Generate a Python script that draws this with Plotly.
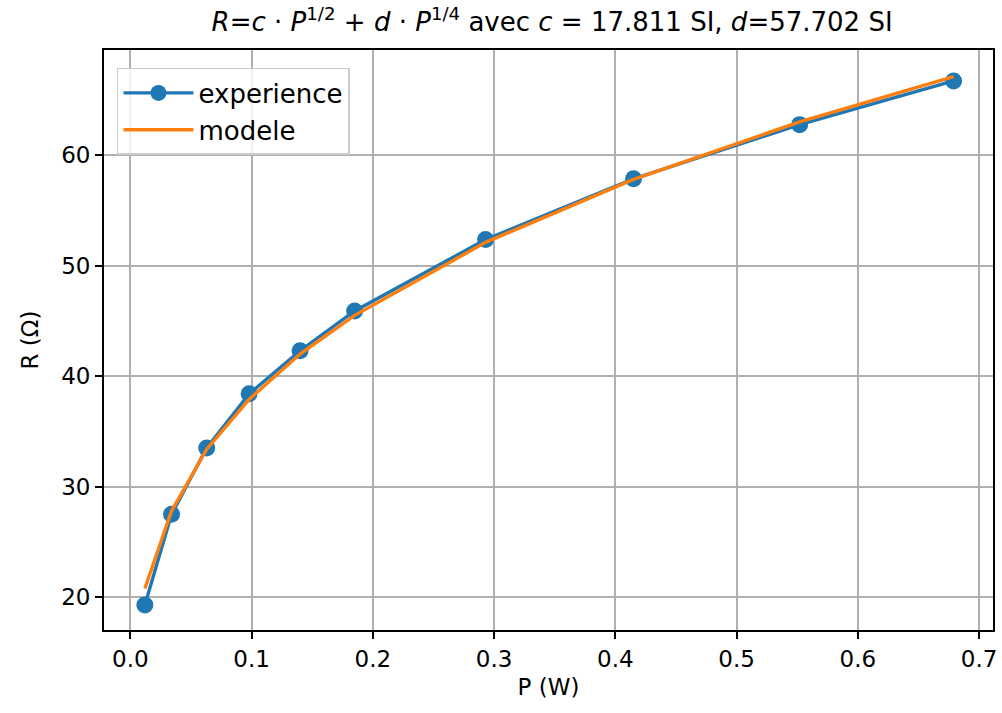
import plotly.graph_objects as go

P_exp = [0.012, 0.034, 0.063, 0.098, 0.140, 0.185, 0.293, 0.415, 0.552, 0.679]
R_exp = [19.3, 27.5, 33.5, 38.4, 42.3, 45.9, 52.35, 57.85, 62.75, 66.7]
R_mod = [20.8, 27.8, 33.4, 37.9, 42.0, 45.5, 52.1, 57.8, 63.0, 67.1]

x_ticks = [0.0, 0.1, 0.2, 0.3, 0.4, 0.5, 0.6, 0.7]
y_ticks = [20, 30, 40, 50, 60]

blue = "#1f77b4"
orange = "#ff7f0e"
font = "DejaVu Sans"

fig = go.Figure()
fig.add_trace(go.Scatter(x=P_exp, y=R_exp, mode="lines+markers", name="experience",
                         line=dict(color=blue, width=3.4),
                         marker=dict(color=blue, size=17)))
fig.add_trace(go.Scatter(x=P_exp, y=R_mod, mode="lines", name="modele",
                         line=dict(color=orange, width=3.4)))

axis_common = dict(showline=True, linecolor="black", linewidth=1.8, mirror=True,
                   ticks="outside", ticklen=7, tickwidth=1.6, tickcolor="black",
                   showgrid=True, gridcolor="#b0b0b0", gridwidth=1.8, zeroline=False,
                   tickfont=dict(family=font, size=23, color="black"))

fig.update_layout(
    width=1002, height=713,
    paper_bgcolor="white", plot_bgcolor="white",
    margin=dict(l=104, r=5, t=50, b=83),
    title=dict(text="<i>R</i>=<i>c</i> · <i>P</i><sup>1/2</sup> + <i>d</i> · <i>P</i><sup>1/4</sup> avec <i>c</i> = 17.811 SI, <i>d</i>=57.702 SI",
               x=0.551, xanchor="center", y=0.969, yanchor="middle",
               font=dict(family=font, size=26, color="black")),
    xaxis=dict(range=[-0.0217, 0.7115], tickvals=x_ticks, tickformat=".1f",
               title=dict(text="P (W)", font=dict(family=font, size=23, color="black"), standoff=8),
               **axis_common),
    yaxis=dict(range=[17.04, 69.5], tickvals=y_ticks,
               title=dict(text="R (Ω)", font=dict(family=font, size=23, color="black"), standoff=16),
               **axis_common),
    legend=dict(x=0.0146, y=0.969, xanchor="left", yanchor="top",
                bgcolor="rgba(255,255,255,0.8)", bordercolor="#cccccc", borderwidth=1.5,
                font=dict(family=font, size=26, color="black"), itemwidth=70),
    showlegend=True,
)

fig.write_html("out.html", config={"displayModeBar": False},
               post_script="document.body.style.margin='0';")
